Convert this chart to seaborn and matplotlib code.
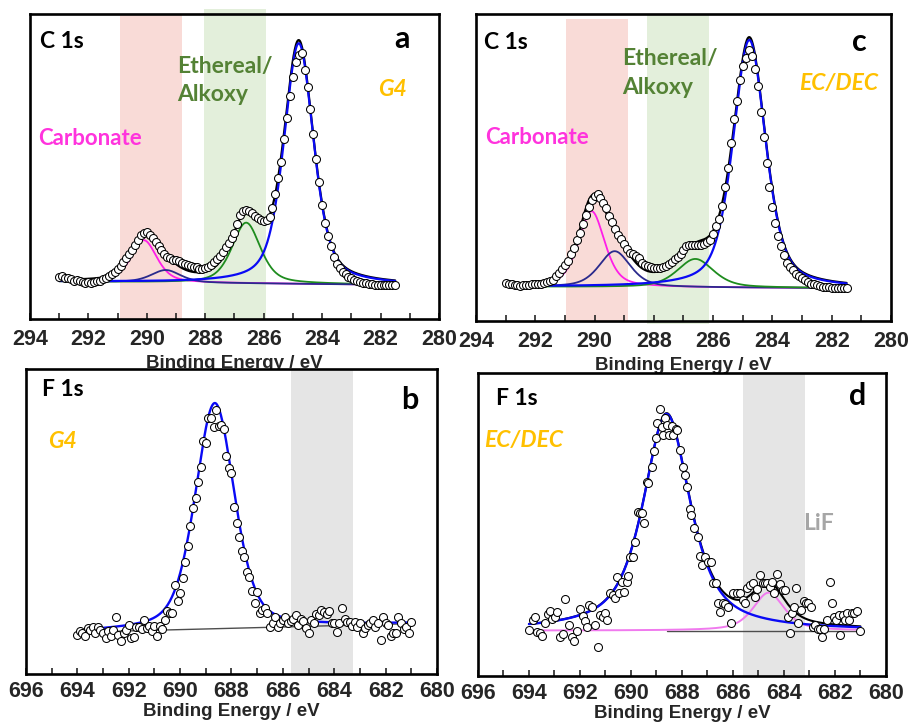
import numpy as np
import matplotlib
matplotlib.use("Agg")
import matplotlib.pyplot as plt
from matplotlib.ticker import MultipleLocator, FormatStrFormatter
import seaborn as sns

# ------------------------------------------------------------------
# C 1s spectra (0.1 eV steps from 293.0 down to 281.5 eV), intensity in a.u.
# ------------------------------------------------------------------
c1s_start, c1s_stop, c1s_step = 293.0, 281.5, 0.1

c1s_g4_counts = [
    13.7, 14.2, 13.6, 13.3, 13.0, 12.6, 12.8, 12.3, 12.1, 11.9,
    12.2, 11.8, 12.0, 12.3, 12.6, 13.0, 13.5, 14.0, 14.6, 15.3,
    16.3, 17.3, 18.6, 20.1, 21.3, 22.7, 24.2, 26.0, 27.4, 28.2,
    28.4, 27.6, 26.4, 25.3, 24.0, 22.6, 21.3, 20.4, 20.0, 19.5,
    19.3, 19.0, 18.5, 18.1, 17.8, 17.5, 17.2, 16.9, 16.5, 16.4,
    16.7, 17.2, 17.8, 18.7, 19.6, 20.8, 22.0, 23.5, 25.0, 26.4,
    28.3, 31.0, 34.0, 35.3, 35.6, 35.4, 34.8, 33.9, 33.2, 32.6,
    32.2, 32.5, 33.3, 36.5, 41.0, 46.3, 51.5, 59.0, 65.8, 73.0,
    79.2, 84.2, 86.6, 87.2, 81.5, 76.0, 68.8, 60.5, 52.5, 44.8,
    37.5, 31.5, 27.3, 23.8, 20.2, 18.0, 16.6, 15.5, 14.6, 13.9,
    13.3, 12.8, 12.4, 12.1, 11.9, 11.7, 11.6, 11.4, 11.3, 11.2,
    11.2, 11.1, 11.2, 11.0, 11.1, 11.0,
]

c1s_ecdec_counts = [
    12.4, 12.2, 11.9, 11.7, 11.8, 11.5, 11.7, 11.6, 11.7, 11.9,
    12.0, 12.1, 12.2, 12.4, 12.6, 13.0, 13.5, 14.5, 15.7, 16.9,
    18.3, 19.6, 21.7, 23.8, 26.4, 28.7, 31.5, 34.4, 37.0, 39.3,
    40.8, 41.3, 40.2, 38.6, 36.8, 34.3, 32.1, 30.0, 28.0, 26.6,
    25.0, 23.5, 22.3, 21.7, 21.1, 20.4, 19.0, 18.2, 17.8, 17.5,
    17.4, 17.2, 17.4, 17.7, 18.0, 18.5, 19.3, 20.1, 20.8, 21.8,
    23.2, 24.5, 24.7, 24.8, 24.9, 24.8, 24.8, 25.0, 25.6, 26.5,
    28.5, 31.0, 33.3, 37.5, 43.5, 50.0, 58.0, 65.8, 71.8, 78.5,
    83.0, 85.8, 88.3, 86.3, 82.0, 76.5, 68.0, 60.0, 51.5, 43.5,
    37.0, 31.8, 27.8, 24.5, 21.5, 19.0, 17.7, 16.5, 15.4, 14.6,
    13.9, 13.3, 12.6, 12.2, 11.9, 11.6, 11.4, 11.2, 11.1, 11.0,
    10.9, 10.9, 10.8, 10.8, 10.7, 10.7,
]

# C 1s peak fits: carbonate, C-O (second), ethereal/alkoxy, C-C/C-H
c1s_component_colors = ["#FF1EE8", "#2A2A8C", "#1E8C1E", "#0A0AF5"]
c1s_g4_center = [290.1, 289.35, 286.6, 284.8]
c1s_g4_fwhm = [1.05, 1.2, 1.15, 1.2]
c1s_g4_height = [13.8, 4.1, 19.9, 78.9]
c1s_g4_background = [12.3, 11.2]          # at 293.0 and 281.5 eV

c1s_ecdec_center = [290.1, 289.32, 286.6, 284.78]
c1s_ecdec_fwhm = [1.05, 1.25, 1.45, 1.3]
c1s_ecdec_height = [24.7, 11.7, 9.3, 80.7]
c1s_ecdec_background = [11.2, 10.7]

c1s_lorentz_fraction = [0.5, 0.5, 0.5, 0.5]

# ------------------------------------------------------------------
# F 1s spectra
# ------------------------------------------------------------------
f1s_g4_start, f1s_g4_stop = 694.0, 681.0
f1s_g4_counts = [
    12.8, 14.2, 13.5, 12.5, 15.0, 14.4, 15.3, 13.5, 15.3, 14.4,
    13.3, 11.7, 14.2, 12.5, 14.4, 18.6, 12.8, 10.9, 13.3, 14.4,
    16.0, 11.7, 12.0, 15.3, 15.5, 14.6, 17.7, 15.0, 15.7, 14.2,
    15.7, 12.5, 15.7, 14.6, 17.7, 20.8, 20.1, 20.1, 29.2, 24.0,
    26.4, 31.4, 36.6, 42.1, 48.6, 54.3, 57.8, 63.0, 68.0, 76.5,
    75.6, 84.0, 83.8, 81.1, 86.5, 81.3, 81.6, 80.4, 71.6, 67.4,
    66.0, 54.9, 49.6, 45.0, 40.4, 38.5, 33.5, 31.9, 27.3, 23.2,
    27.0, 19.9, 21.0, 21.5, 20.1, 15.3, 16.6, 18.8, 15.3, 16.6,
    17.7, 18.6, 16.8, 17.5, 17.9, 19.3, 16.1, 17.9, 17.5, 15.0,
    13.3, 17.7, 16.6, 19.7, 19.3, 21.0, 20.4, 19.7, 20.8, 16.8,
    16.8, 13.9, 16.8, 21.5, 17.9, 17.1, 17.1, 15.7, 17.1, 15.3,
    16.8, 13.5, 15.0, 16.1, 16.6, 17.7, 15.3, 16.6, 11.1, 18.8,
    16.8, 16.1, 12.5, 13.3, 13.5, 18.8, 16.6, 14.6, 15.5, 13.5,
    17.1,
]
f1s_g4_center = [688.65]
f1s_g4_fwhm = [1.8]
f1s_g4_height = [74.0]
f1s_g4_lorentz = [0.4]
f1s_g4_background = [13.9, 16.5]          # at 693.0 and 681.0 eV

f1s_ecdec_energy = [
    693.99, 693.85, 693.76, 693.67, 693.57, 693.50, 693.37, 693.24, 693.17, 693.11,
    692.98, 692.89, 692.78, 692.68, 692.59, 692.42, 692.32, 692.23, 692.10, 691.99,
    691.89, 691.80, 691.71, 691.63, 691.54, 691.41, 691.28, 691.21, 691.11, 691.02,
    690.92, 690.82, 690.72, 690.62, 690.53, 690.45, 690.36, 690.27, 690.17, 690.10,
    690.04, 689.93, 689.84, 689.71, 689.64, 689.58, 689.49, 689.38, 689.32, 689.19,
    689.09, 689.01, 688.96, 688.88, 688.79, 688.73, 688.66, 688.60, 688.49, 688.40,
    688.34, 688.23, 688.18, 688.07, 687.97, 687.90, 687.79, 687.68, 687.66, 687.52,
    687.39, 687.29, 687.22, 687.09, 686.96, 686.87, 686.77, 686.66, 686.57, 686.50,
    686.40, 686.31, 686.18, 686.08, 685.98, 685.85, 685.74, 685.61, 685.52, 685.43,
    685.33, 685.22, 685.13, 685.06, 684.93, 684.83, 684.74, 684.65, 684.54, 684.48,
    684.38, 684.28, 684.17, 684.04, 683.95, 683.86, 683.78, 683.69, 683.60, 683.52,
    683.43, 683.34, 683.23, 683.13, 683.04, 682.94, 682.87, 682.77, 682.68, 682.60,
    682.51, 682.42, 682.31, 682.21, 682.12, 682.03, 681.95, 681.86, 681.79, 681.69,
    681.60, 681.51, 681.43, 681.34, 681.25, 681.12, 681.01,
]
f1s_ecdec_counts = [
    15.2, 18.5, 19.4, 14.6, 14.3, 13.2, 17.4, 20.5, 21.5, 18.7,
    19.6, 21.2, 13.0, 13.9, 25.3, 16.8, 12.8, 11.7, 15.0, 22.0,
    19.8, 18.3, 16.1, 23.4, 22.9, 16.8, 9.7, 20.1, 19.6, 20.9,
    18.5, 27.3, 26.7, 25.6, 32.6, 27.5, 31.1, 27.8, 31.1, 33.0,
    39.4, 39.4, 44.3, 54.2, 53.7, 53.7, 50.4, 64.1, 63.8, 68.9,
    74.4, 78.4, 83.6, 88.1, 82.3, 79.5, 85.3, 82.8, 79.5, 82.5,
    79.5, 81.4, 81.2, 74.6, 68.9, 66.3, 62.5, 55.0, 53.1, 48.7,
    46.0, 39.6, 36.6, 39.2, 37.5, 37.7, 30.8, 30.8, 24.2, 21.2,
    24.2, 23.7, 22.9, 17.4, 27.3, 27.5, 27.3, 25.1, 24.0, 29.0,
    30.0, 30.6, 26.2, 28.6, 33.3, 30.8, 30.6, 30.6, 29.3, 31.1,
    27.5, 33.7, 30.4, 28.4, 28.4, 19.6, 14.1, 20.9, 22.7, 29.0,
    17.4, 21.8, 24.9, 24.0, 24.0, 22.7, 16.3, 16.8, 15.4, 15.4,
    12.8, 15.4, 18.5, 31.1, 24.0, 19.4, 18.5, 20.1, 13.5, 20.1,
    18.5, 20.9, 18.5, 20.9, 20.9, 21.6, 15.0,
]
# main F 1s component and LiF component
f1s_ecdec_center = [688.6, 684.6]
f1s_ecdec_fwhm = [2.2, 1.45]
f1s_ecdec_height = [71.5, 12.5]
f1s_ecdec_lorentz = [0.75, 0.6]
f1s_ecdec_background = 15.0

# ------------------------------------------------------------------
sns.set_style("white")
plt.rcParams["font.family"] = ["Liberation Sans", "DejaVu Sans"]
ANNOT_FONT = ["Lato", "DejaVu Sans"]

PINK_BAND = "#F9DBD7"
GREEN_BAND = "#E3EFDB"
GREY_BAND = "#E5E5E5"
GOLD = "#FFC000"
TEXT_GREEN = "#548235"
TEXT_PINK = "#FF33DD"


def pseudo_voigt(x, center, fwhm, height, eta):
    d = (x - center) / fwhm
    lor = 1.0 / (1.0 + 4.0 * d ** 2)
    gau = np.exp(-4.0 * np.log(2.0) * d ** 2)
    return height * (eta * lor + (1.0 - eta) * gau)


def style_axes(ax, xlim, tick_pad, label_pad):
    ax.set_xlim(*xlim)
    ax.set_ylim(0, 100)
    ax.set_yticks([])
    ax.xaxis.set_major_locator(MultipleLocator(2))
    ax.xaxis.set_minor_locator(MultipleLocator(1))
    ax.xaxis.set_major_formatter(FormatStrFormatter("%d"))
    ax.tick_params(axis="x", which="both", direction="in", length=4, width=1.2,
                   bottom=True, top=False, labelsize=15.5, pad=tick_pad)
    for lab in ax.get_xticklabels():
        lab.set_fontweight("bold")
    for sp in ax.spines.values():
        sp.set_linewidth(1.9)
        sp.set_color("black")
    ax.set_xlabel("Binding Energy / eV", fontsize=13.5, fontweight="bold",
                  labelpad=label_pad)
    ax.set_ylabel("")


def draw_points(ax, x, y):
    sns.scatterplot(x=x, y=y, ax=ax, s=33, color="white", edgecolor="black",
                    linewidth=0.75, zorder=6, legend=False)


def draw_line(ax, x, y, color, lw, z):
    sns.lineplot(x=x, y=y, ax=ax, color=color, linewidth=lw, zorder=z,
                 sort=False, estimator=None, legend=False)


def annotate(ax, fx, fy, s, color="black", size=16.5, ha="left", style="normal"):
    ax.text(fx, fy, s, transform=ax.transAxes, ha=ha, va="baseline",
            fontsize=size, fontweight="bold", color=color, family=ANNOT_FONT,
            style=style, zorder=8)


fig = plt.figure(figsize=(9.08, 7.22), dpi=100)
ax_a = fig.add_axes([0.0330, 0.5582, 0.4505, 0.4224])
ax_c = fig.add_axes([0.5242, 0.5554, 0.4571, 0.4252])
ax_b = fig.add_axes([0.0286, 0.0665, 0.4527, 0.4224])
ax_d = fig.add_axes([0.5264, 0.0637, 0.4493, 0.4197])
for ax in (ax_a, ax_c):
    ax.set_zorder(0)
for ax in (ax_b, ax_d):
    ax.set_zorder(1)
    ax.set_facecolor("white")

c1s_energy = np.round(np.arange(c1s_start, c1s_stop - 1e-6, -c1s_step), 2)
c1s_fit_x = np.linspace(c1s_start, c1s_stop, 600)


def c1s_panel(ax, counts, centers, fwhms, heights, background, order,
              pink_span, green_span):
    style_axes(ax, (294, 280), tick_pad=7.0, label_pad=3.5)
    ax.axvspan(*pink_span[:2], ymin=pink_span[2], ymax=pink_span[3],
               color=PINK_BAND, lw=0, zorder=0, clip_on=False)
    ax.axvspan(*green_span[:2], ymin=green_span[2], ymax=green_span[3],
               color=GREEN_BAND, lw=0, zorder=0, clip_on=False)
    base = np.interp(c1s_fit_x, [c1s_stop, c1s_start], background[::-1])
    comps = [pseudo_voigt(c1s_fit_x, c, w, h, e) for c, w, h, e in
             zip(centers, fwhms, heights, c1s_lorentz_fraction)]
    envelope = base + np.sum(comps, axis=0)
    draw_line(ax, c1s_fit_x, envelope, "black", 1.6, 2)
    for z, i in enumerate(order):
        lw = 1.6 if i == 3 else 1.3
        draw_line(ax, c1s_fit_x, base + comps[i], c1s_component_colors[i], lw, 3 + z * 0.1)
    draw_points(ax, c1s_energy, counts)


c1s_panel(ax_a, c1s_g4_counts, c1s_g4_center, c1s_g4_fwhm, c1s_g4_height,
          c1s_g4_background, [0, 2, 1, 3],
          (290.92, 288.8, 0.0, 1.0), (288.04, 285.92, 0.0, 1.016))
c1s_panel(ax_c, c1s_ecdec_counts, c1s_ecdec_center, c1s_ecdec_fwhm,
          c1s_ecdec_height, c1s_ecdec_background, [0, 1, 2, 3],
          (290.97, 288.86, 0.0, 0.984), (288.24, 286.14, -0.01, 1.0))

# panel a labels
annotate(ax_a, 0.024, 0.888, "C 1s")
annotate(ax_a, 0.909, 0.890, "a", size=22, ha="center")
annotate(ax_a, 0.359, 0.806, "Ethereal/", color=TEXT_GREEN)
annotate(ax_a, 0.359, 0.716, "Alkoxy", color=TEXT_GREEN)
annotate(ax_a, 0.851, 0.730, "G4", color=GOLD, style="italic")
annotate(ax_a, 0.019, 0.572, "Carbonate", color=TEXT_PINK, size=16)

# panel c labels
annotate(ax_c, 0.019, 0.886, "C 1s")
annotate(ax_c, 0.923, 0.881, "c", size=22, ha="center")
annotate(ax_c, 0.351, 0.835, "Ethereal/", color=TEXT_GREEN)
annotate(ax_c, 0.351, 0.741, "Alkoxy", color=TEXT_GREEN)
annotate(ax_c, 0.778, 0.751, "EC/DEC", color=GOLD, style="italic")
annotate(ax_c, 0.023, 0.578, "Carbonate", color=TEXT_PINK, size=16)

# panel b: F 1s, G4
style_axes(ax_b, (696, 680), tick_pad=5.0, label_pad=0.5)
ax_b.axvspan(685.7, 683.27, color=GREY_BAND, lw=0, zorder=0)
f1s_g4_energy = np.round(np.arange(f1s_g4_start, f1s_g4_stop - 1e-6, -0.1), 2)
fit_b = np.linspace(693.0, 681.0, 600)
base_b = np.interp(fit_b, [681.0, 693.0], f1s_g4_background[::-1])
peak_b = pseudo_voigt(fit_b, f1s_g4_center[0], f1s_g4_fwhm[0], f1s_g4_height[0],
                      f1s_g4_lorentz[0])
draw_line(ax_b, fit_b, base_b, "#4D4D4D", 1.0, 2)
draw_line(ax_b, fit_b, base_b + peak_b, "#0A0AF5", 1.7, 3)
draw_points(ax_b, f1s_g4_energy, f1s_g4_counts)
annotate(ax_b, 0.039, 0.911, "F 1s")
annotate(ax_b, 0.933, 0.870, "b", size=22, ha="center")
annotate(ax_b, 0.053, 0.742, "G4", color=GOLD, style="italic")

# panel d: F 1s, EC/DEC
style_axes(ax_d, (696, 680), tick_pad=5.0, label_pad=0.5)
ax_d.axvspan(685.6, 683.18, color=GREY_BAND, lw=0, zorder=0)
fit_d = np.linspace(694.0, 681.0, 600)
main_d = pseudo_voigt(fit_d, f1s_ecdec_center[0], f1s_ecdec_fwhm[0],
                      f1s_ecdec_height[0], f1s_ecdec_lorentz[0])
lif_d = pseudo_voigt(fit_d, f1s_ecdec_center[1], f1s_ecdec_fwhm[1],
                     f1s_ecdec_height[1], f1s_ecdec_lorentz[1])
base_d = np.full_like(fit_d, f1s_ecdec_background)
right = fit_d <= f1s_ecdec_center[0]
draw_line(ax_d, fit_d[right], base_d[right], "#4D4D4D", 1.0, 2)
draw_line(ax_d, fit_d, base_d + main_d + lif_d, "black", 1.5, 2.5)
draw_line(ax_d, fit_d, base_d + lif_d, "#F07AEE", 1.4, 3)
draw_line(ax_d, fit_d, base_d + main_d, "#0A0AF5", 1.7, 3.2)
draw_points(ax_d, f1s_ecdec_energy, f1s_ecdec_counts)
annotate(ax_d, 0.043, 0.893, "F 1s")
annotate(ax_d, 0.930, 0.893, "d", size=22, ha="center")
annotate(ax_d, 0.016, 0.756, "EC/DEC", color=GOLD, style="italic")
annotate(ax_d, 0.797, 0.481, "LiF", color="#A6A6A6")

fig.savefig("out.png", dpi=100)
